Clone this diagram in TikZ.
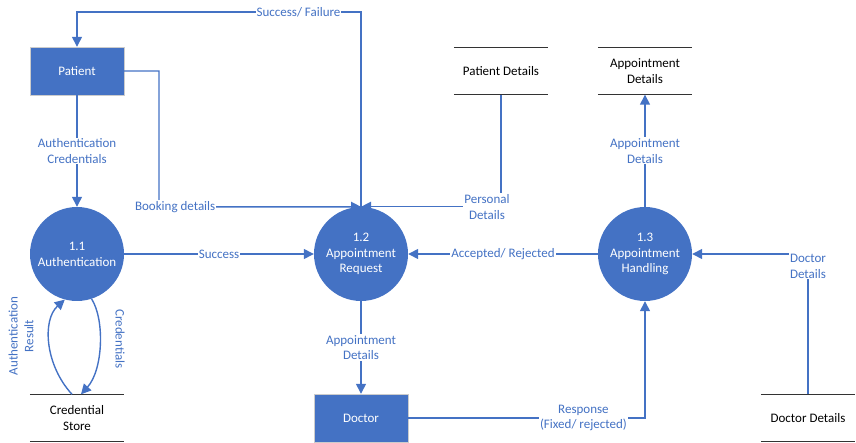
\documentclass[tikz,border=0pt]{standalone}
\usepackage{fontspec}
\setmainfont{Carlito}
\usetikzlibrary{arrows.meta}
\definecolor{dfdblue}{HTML}{4472C4}

\begin{document}
\begin{tikzpicture}[x=1pt, y=-1pt,
    font=\fontsize{13}{15.8}\selectfont,
    flow/.style={draw=dfdblue, line width=1.4pt, -{Triangle[length=10pt,width=10pt]}},
    lbl/.style={fill=white, text=dfdblue, inner sep=1pt, align=center},
    proc/.style={circle, fill=dfdblue, text=white, minimum size=94pt, inner sep=0pt, align=center},
    ent/.style={rectangle, fill=dfdblue, draw=gray!40, text=white, minimum width=94pt, minimum height=48pt},
    store/.style={minimum width=94pt, minimum height=47pt, inner sep=0pt, align=center},
    storeline/.style={line width=1.3pt, draw=black!80}]
    \useasboundingbox (0,0) rectangle (856,443);

    % Processes
    \node[proc] (auth) at (77,254) {1.1\\Authentication};
    \node[proc] (req) at (361,254) {1.2\\Appointment\\Request};
    \node[proc] (hand) at (645,254) {1.3\\Appointment\\Handling};

    % External entities
    \node[ent] (patient) at (77,71) {Patient};
    \node[ent] (doctor) at (361,418) {Doctor};

    % Data stores
    \node[store] (cred) at (77,418) {Credential\\Store};
    \node[store] (pdstore) at (501,71) {Patient Details};
    \node[store] (apstore) at (645,71) {Appointment\\Details};
    \node[store] (ddstore) at (808,418) {Doctor Details};
    \foreach \s in {cred,pdstore,apstore,ddstore} {
        \draw[storeline] (\s.north west) -- (\s.north east);
        \draw[storeline] (\s.south west) -- (\s.south east);
    }

    % Corner points
    \coordinate (sf) at (361,12);
    \coordinate (bk) at (159,207);

    % Flows
    \draw[flow] (req.north) -- (sf) -| (patient.north) node[lbl, pos=0.11] {Success/ Failure};
    \draw[flow] (patient.east) -| (bk) -- (req.north) node[lbl, pos=0.08] {Booking details};
    \draw[flow] (pdstore.south) |- (req.north) node[lbl, pos=0.55] {Personal\\Details};
    \draw[flow] (patient.south) -- (auth.north) node[lbl, midway] {Authentication\\Credentials};
    \draw[flow] (auth) -- (req) node[lbl, midway] {Success};
    \draw[flow] (hand) -- (req) node[lbl, midway] {Accepted/ Rejected};
    \draw[flow] (req.south) -- (doctor.north) node[lbl, midway] {Appointment\\Details};
    \draw[flow] (hand.north) -- (apstore.south) node[lbl, midway] {Appointment\\Details};
    \draw[flow] (doctor.east) -| (hand.south) node[lbl, pos=0.37] {Response\\(Fixed/ rejected)};
    \draw[flow] (ddstore.north) |- (hand.east) node[lbl, pos=0.457] {Doctor\\Details};

    % Credential store loop
    \draw[flow] ([xshift=-5pt]cred.north) .. controls (45,365) and (42,320) .. (auth.-105);
    \draw[flow] (auth.-72) .. controls (105,320) and (103,370) .. ([xshift=4pt]cred.north);
    \node[lbl, rotate=90] (arlbl) at (21,336) {Authentication\\Result};
    \node[lbl, rotate=-90] (crlbl) at (120,339) {Credentials};
\end{tikzpicture}
\end{document}
